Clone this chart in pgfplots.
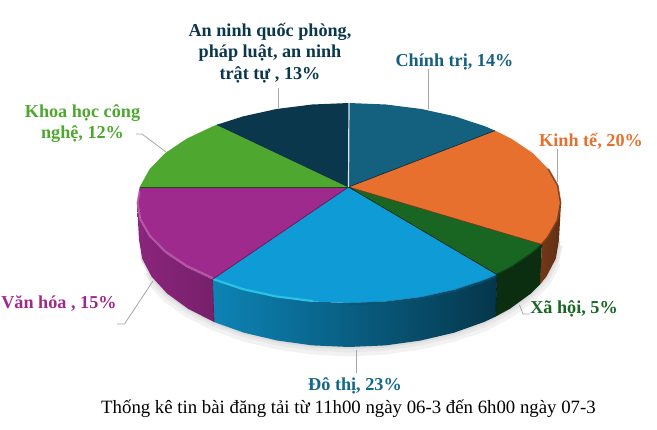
\documentclass[border=0pt]{standalone}
\usepackage{pgfplots}
\pgfplotsset{compat=1.18}
\usepackage{fontspec}
\setmainfont{Liberation Serif}

\definecolor{cteal}{HTML}{14607F}
\definecolor{corange}{HTML}{E7702F}
\definecolor{cdgreen}{HTML}{196623}
\definecolor{cblue}{HTML}{0F9BD6}
\definecolor{cpurple}{HTML}{9E2A8E}
\definecolor{cgreen}{HTML}{4EA72E}
\definecolor{cnavy}{HTML}{0B374D}
\definecolor{cleader}{HTML}{A6A6A6}

\tikzset{lab/.style={font=\fontsize{18.2}{21.3}\selectfont\bfseries, align=center, inner sep=0pt}}

\begin{document}
\begin{tikzpicture}
\useasboundingbox (0,0) rectangle (657pt,430pt);
\begin{axis}[
    at={(0,0)}, anchor=south west,
    scale only axis, width=657pt, height=430pt,
    xmin=0, xmax=657, ymin=0, ymax=430,
    y dir=reverse,
    hide axis, clip=false,
    every axis plot/.append style={no markers},
]
% soft shadow under the pie
\addplot[draw=gray!10, line width=11pt] coordinates {
    (151.6,280) (167.1,297) (188.1,312) (214,325) (244,336) (277.2,344) (312.5,349) (349,351)
    (385.5,349) (420.8,344) (454,336) (484,326) (509.9,312) (530.9,297) (546.4,280) (555.8,262)
};
\addplot[draw=gray!18, line width=7pt] coordinates {
    (149,272) (151.6,278) (167.1,295) (188.1,310) (214,323) (244,334) (277.2,342) (312.5,347) (349,349)
    (385.5,347) (420.8,342) (454,334) (484,324) (509.9,310) (530.9,295) (546.4,278) (555.8,260) (559,245)
};
\addplot[draw=gray!28, line width=3pt] coordinates {
    (142,250) (142.2,258.6) (151.6,277) (167.1,294) (188.1,309) (214,322.5) (244,333.2) (277.2,341) (312.5,346) (349,347.6)
    (385.5,346) (420.8,341) (454,333.2) (484,322.5) (509.9,309) (530.9,294) (546.4,277) (555.8,259) (559,241)
};

% side walls
\addplot[draw=none, left color=corange!50!black, right color=corange!42!black] coordinates {
    (561,203) (557.8,220.4) (548.2,237.2) (541.9,244.5)
    (540,284.4) (546.4,276.6) (555.8,258.6) (559,240)
} -- cycle;
\addplot[draw=none, fill=black!55!cdgreen] coordinates {
    (541.9,244.5) (532.6,253) (511.4,267.3) (497,274.6)
    (495.6,316.6) (509.9,308.8) (530.9,293.5) (540,284.4)
} -- cycle;
\addplot[draw=none, left color=cblue!85!black, middle color=cblue!55!black, right color=cblue!35!black] coordinates {
    (497,274.6) (485.3,279.6) (455,289.6) (421.5,297) (385.8,301.5) (349,303)
    (312.2,301.5) (276.5,297) (243,289.6) (212.4,279.4)
    (214,322) (244,332.7) (277.2,340.5) (312.5,345.4) (349,347)
    (385.5,345.4) (420.8,340.5) (454,332.7) (484,322) (495.6,316.6)
} -- cycle;
\addplot[draw=none, left color=cpurple!88!black, right color=cpurple!75!black] coordinates {
    (212.4,279.4) (186.6,267.3) (165.4,253) (149.8,237.2) (140.2,220.4) (137,203)
    (139,240) (142.2,258.6) (151.6,276.6) (167.1,293.5) (188.1,308.8) (214,322)
} -- cycle;

% top faces
\addplot[draw=none, fill=cteal] coordinates {
    (348.5,187) (349,103) (385.8,104.5) (421.5,109) (455,116.4) (485.3,126.4) (495,130.6)
} -- cycle;
\addplot[draw=none, fill=corange] coordinates {
    (348.5,187) (495,130.6) (511.4,138.7) (532.6,153) (548.2,168.8) (557.8,185.6) (561,203)
    (557.8,220.4) (548.2,237.2) (541.9,244.5)
} -- cycle;
\addplot[draw=none, fill=cdgreen] coordinates {
    (348.5,187) (541.9,244.5) (532.6,253) (511.4,267.3) (497,274.6)
} -- cycle;
\addplot[draw=none, fill=cblue] coordinates {
    (348.5,187) (497,274.6) (485.3,279.6) (455,289.6) (421.5,297) (385.8,301.5) (349,303)
    (312.2,301.5) (276.5,297) (243,289.6) (212.4,279.4)
} -- cycle;
\addplot[draw=none, fill=cpurple] coordinates {
    (348.5,187) (212.4,279.4) (186.6,267.3) (165.4,253) (149.8,237.2) (140.2,220.4) (137,203) (139.7,187)
} -- cycle;
\addplot[draw=none, fill=cgreen] coordinates {
    (348.5,187) (139.7,187) (149.8,168.8) (165.4,153) (186.6,138.7) (212.7,126.4) (217,124.7)
} -- cycle;
\addplot[draw=none, fill=cnavy] coordinates {
    (348.5,187) (217,124.7) (243,116.4) (276.5,109) (312.2,104.5) (349,103)
} -- cycle;

% bevel along the rim
\addplot[draw=cpurple!70!white, line width=2pt, opacity=.7, line cap=round] coordinates {
    (212.4,278) (186.6,265.8) (165.4,251.5) (149.8,235.7) (140.2,219) (137.5,203) (139.5,192)
};
\addplot[draw=cblue!60!cyan!85!white, line width=2.2pt, opacity=.8, line cap=round] coordinates {
    (214,279.4) (243,289.2) (276.5,296.5) (312.2,301)
};
\addplot[draw=cblue!55!black, line width=2.5pt, opacity=.6] coordinates {
    (497,275.6) (485.3,280.6) (455,290.6) (421.5,298) (385.8,302.5) (349,304)
};
\addplot[draw=corange!42!black, line width=1.6pt, opacity=.75] coordinates {
    (548.2,168.8) (557.8,185.6) (560.6,203) (557.4,220.4) (547.8,237.2) (541.5,244.5)
};
\addplot[draw=black!55!cdgreen, line width=2pt, opacity=.7] coordinates {
    (541.9,244.5) (532.6,253) (511.4,267.3) (497,274.6)
};

% edges between slices
\addplot[draw=cnavy!80!black, line width=.7pt] coordinates {(348.5,187) (495,130.6)};
\addplot[draw=corange!50!black, line width=.7pt] coordinates {(348.5,187) (541.9,244.5)};
\addplot[draw=cdgreen!35!black, line width=.7pt] coordinates {(348.5,187) (497,274.6)};
\addplot[draw=cpurple!65!black, line width=.8pt] coordinates {(348.5,187) (212.4,279.4)};
\addplot[draw=cgreen!45!black, line width=.7pt] coordinates {(348.5,187) (139.7,187)};
\addplot[draw=cnavy!85!black, line width=.6pt] coordinates {(348.5,187) (217,124.7)};
\addplot[draw=white!85!cteal, line width=1.2pt] coordinates {(348.5,187) (349,103)};
\addplot[draw=cpurple!65!black, line width=.8pt] coordinates {(212.4,279.4) (214,322)};
\addplot[draw=cblue!20!black, line width=.6pt] coordinates {(497,274.6) (495.6,316.6)};

% leader lines
\addplot[draw=cleader, line width=.8pt] coordinates {(278.5,88) (278.5,108)};
\addplot[draw=cleader, line width=.8pt] coordinates {(428.7,69) (428.7,109)};
\addplot[draw=cleader, line width=.8pt] coordinates {(557.5,149) (557.5,182)};
\addplot[draw=cleader, line width=.8pt] coordinates {(136,134) (142,134) (166,152)};
\addplot[draw=cleader, line width=.8pt] coordinates {(117,324) (124.5,324) (153,281)};
\addplot[draw=cleader, line width=.8pt] coordinates {(530,314) (523,314) (519.5,305)};
\addplot[draw=cleader, line width=.8pt] coordinates {(356.5,350) (356.5,373)};

% labels
\node[lab, text=cnavy] at (axis cs:270,53) {An ninh quốc phòng,\\pháp luật, an ninh\\trật tự , 13\%};
\node[lab, text=cteal] at (axis cs:454.5,61.5) {Chính trị, 14\%};
\node[lab, text=corange] at (axis cs:591,141) {Kinh tế, 20\%};
\node[lab, text=cgreen] at (axis cs:82.5,123.5) {Khoa học công\\nghệ, 12\%};
\node[lab, text=cpurple] at (axis cs:59,303) {Văn hóa , 15\%};
\node[lab, text=cdgreen] at (axis cs:574,309) {Xã hội, 5\%};
\node[lab, text=cteal!85!cblue] at (axis cs:355,386) {Đô thị, 23\%};
\node[font=\fontsize{18.8}{22}\selectfont, inner sep=0pt] at (axis cs:348.5,409) {Thống kê tin bài đăng tải từ 11h00 ngày 06-3 đến 6h00 ngày 07-3};
\end{axis}
\end{tikzpicture}
\end{document}
